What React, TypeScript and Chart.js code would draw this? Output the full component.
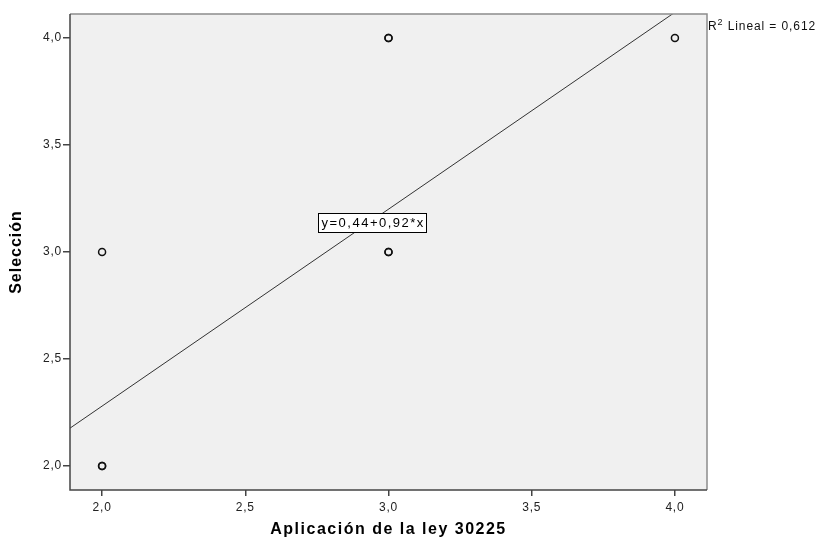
import React, { useEffect, useRef } from "react";
import { Chart, registerables } from "chart.js";

Chart.register(...registerables);

// Observations (duplicates drawn twice, as in the source plot where circles look bolder)
const obsX = [2, 2, 2, 3, 3, 3, 3, 4];
const obsY = [2, 2, 3, 4, 4, 3, 3, 4];
const intercept = 0.44;
const slope = 0.92;
const r2Text = "0,612";
const axisMin = 1.888;
const axisMax = 4.112;
const tickValues = [2, 2.5, 3, 3.5, 4];
const xTitle = "Aplicación de la ley 30225";
const yTitle = "Selección";

const fmt = (v: number) => v.toFixed(1).replace(".", ",");

const FONT = "'Liberation Sans', Arial, sans-serif";

const decorPlugin = {
  id: "decor",
  beforeDraw(chart: any) {
    const { ctx, chartArea } = chart;
    ctx.save();
    ctx.fillStyle = "#f0f0f0";
    ctx.fillRect(chartArea.left, chartArea.top, chartArea.right - chartArea.left, chartArea.bottom - chartArea.top);
    ctx.restore();
    ctx.letterSpacing = "0.8px";
  },
  afterDraw(chart: any) {
    const { ctx, chartArea, scales } = chart;
    const { left, right, top, bottom } = chartArea;
    ctx.save();
    // frame
    ctx.strokeStyle = "#8c8c8c";
    ctx.lineWidth = 1.5;
    ctx.beginPath();
    ctx.moveTo(left, top);
    ctx.lineTo(right, top);
    ctx.lineTo(right, bottom);
    ctx.stroke();
    ctx.strokeStyle = "#444";
    ctx.beginPath();
    ctx.moveTo(left, top);
    ctx.lineTo(left, bottom);
    ctx.lineTo(right, bottom);
    ctx.stroke();

    // equation box
    const ex = scales.x.getPixelForValue(2.942);
    const ey = scales.y.getPixelForValue(3.14);
    ctx.font = `13px ${FONT}`;
    ctx.letterSpacing = "1.5px";
    const eq = `y=${intercept.toFixed(2).replace(".", ",")}+${slope.toFixed(2).replace(".", ",")}*x`;
    const w = ctx.measureText(eq).width + 5;
    const h = 19;
    const bx = Math.round(ex - w / 2) + 0.5;
    const by = Math.round(ey - h / 2) + 0.5;
    ctx.fillStyle = "#ffffff";
    ctx.fillRect(bx, by, Math.round(w), h);
    ctx.strokeStyle = "#000";
    ctx.lineWidth = 1;
    ctx.strokeRect(bx, by, Math.round(w), h);
    ctx.fillStyle = "#000";
    ctx.textAlign = "left";
    ctx.textBaseline = "middle";
    ctx.fillText(eq, bx + 3, ey + 1);

    // R2 label
    ctx.textAlign = "left";
    ctx.textBaseline = "alphabetic";
    ctx.fillStyle = "#111";
    ctx.letterSpacing = "0.9px";
    ctx.font = `12px ${FONT}`;
    let px = right + 1;
    const py = top + 16;
    ctx.fillText("R", px, py);
    px += ctx.measureText("R").width;
    ctx.font = `9px ${FONT}`;
    ctx.fillText("2", px, py - 5);
    px += ctx.measureText("2").width;
    ctx.font = `12px ${FONT}`;
    ctx.fillText(` Lineal = ${r2Text}`, px, py);

    // axis titles
    ctx.fillStyle = "#000";
    ctx.font = `bold 16px ${FONT}`;
    ctx.letterSpacing = "1.5px";
    ctx.textAlign = "center";
    ctx.textBaseline = "alphabetic";
    ctx.fillText(xTitle, (left + right) / 2, 534);
    ctx.save();
    ctx.translate(21, (top + bottom) / 2);
    ctx.rotate(-Math.PI / 2);
    ctx.letterSpacing = "1px";
    ctx.fillText(yTitle, 0, 0);
    ctx.restore();
    ctx.restore();
  },
};

export default function App() {
  const ref = useRef<HTMLCanvasElement>(null);
  useEffect(() => {
    if (!ref.current) return;
    const points = obsX.map((x, i) => ({ x, y: obsY[i] }));
    const line = [axisMin, axisMax].map((x) => ({ x, y: intercept + slope * x }));
    const tickCommon = {
      color: "#222",
      font: { family: FONT, size: 12 },
      callback: (v: any) => fmt(Number(v)),
    };
    const chart = new Chart(ref.current, {
      type: "scatter",
      data: {
        datasets: [
          {
            type: "line",
            data: line,
            borderColor: "#333",
            borderWidth: 1,
            pointRadius: 0,
            fill: false,
            order: 2,
          } as any,
          {
            data: points,
            pointStyle: "circle",
            pointRadius: 3.5,
            borderColor: "#111",
            borderWidth: 1.5,
            backgroundColor: "rgba(0,0,0,0)",
            order: 1,
          },
        ],
      },
      options: {
        animation: false,
        responsive: false,
        devicePixelRatio: 1,
        layout: { padding: { left: 0, top: 14, right: 112, bottom: 0 } },
        plugins: { legend: { display: false }, tooltip: { enabled: false } },
        scales: {
          x: {
            type: "linear",
            min: axisMin,
            max: axisMax,
            afterBuildTicks: (s: any) => {
              s.ticks = tickValues.map((value) => ({ value }));
            },
            afterFit: (s: any) => {
              s.height = 50;
            },
            grid: { drawOnChartArea: false, tickLength: 6, color: "#444", lineWidth: 1.5 },
            border: { display: false },
            ticks: { ...tickCommon, padding: 4, maxRotation: 0 },
          },
          y: {
            type: "linear",
            min: axisMin,
            max: axisMax,
            afterBuildTicks: (s: any) => {
              s.ticks = tickValues.map((value) => ({ value }));
            },
            afterFit: (s: any) => {
              s.width = 70;
            },
            grid: { drawOnChartArea: false, tickLength: 7, color: "#444", lineWidth: 1.5 },
            border: { display: false },
            ticks: { ...tickCommon, padding: 1 },
          },
        },
      },
      plugins: [decorPlugin],
    });
    return () => chart.destroy();
  }, []);
  return (
    <div style={{ position: "fixed", left: 0, top: 0, width: 819, height: 540, background: "#fff" }}>
      <canvas ref={ref} width={819} height={540} style={{ width: 819, height: 540, display: "block" }} />
    </div>
  );
}
